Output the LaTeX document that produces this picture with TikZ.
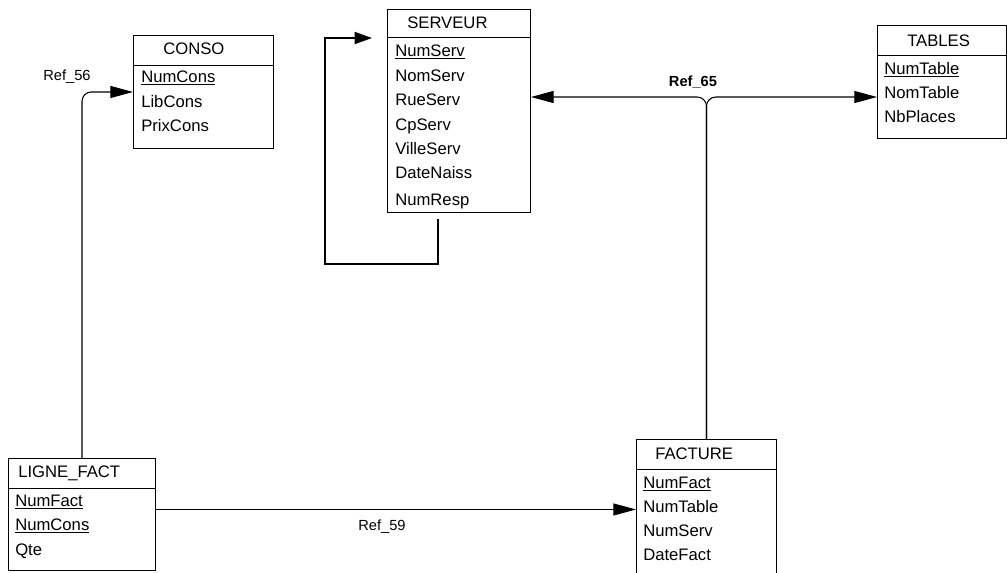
\documentclass[tikz,border=0pt]{standalone}
\usepackage{fontspec}
\setmainfont{Liberation Sans}
\usetikzlibrary{arrows.meta}
\tikzset{
  entity/.style={draw, line width=0.7pt, anchor=north west, inner sep=0pt},
  enttitle/.style={anchor=base west, inner sep=0pt, font=\fontsize{12.5}{14}\selectfont},
  attr/.style={anchor=base west, inner sep=0pt, font=\fontsize{12.5}{14}\selectfont},
  link/.style={line width=0.8pt, -{Triangle[length=17pt,width=9pt]}},
  reflabel/.style={inner sep=0pt, font=\fontsize{11}{13}\selectfont}
}
\begin{document}
\begin{tikzpicture}[x=0.75pt,y=-0.75pt]
\clip (0,0) rectangle (1007,572);
% entities
\node[entity, minimum width=105pt, minimum height=84.75pt] (conso) at (133,35) {};
\node[entity, minimum width=107.25pt, minimum height=152.25pt] (serveur) at (387,9) {};
\node[entity, minimum width=96.75pt, minimum height=84.75pt] (tables) at (877,25) {};
\node[entity, minimum width=110.25pt, minimum height=84pt] (lignefact) at (8,458) {};
\node[entity, minimum width=105pt, minimum height=105pt] (facture) at (636,439) {};
% header lines
\draw[line width=0.7pt] (133,65) -- (273,65);
\draw[line width=0.7pt] (387,37) -- (530,37);
\draw[line width=0.7pt] (877,55) -- (1006,55);
\draw[line width=0.7pt] (8,488) -- (155,488);
\draw[line width=0.7pt] (636,469) -- (776,469);
% CONSO
\node[enttitle] (consoT) at (163,54) {CONSO};
\node[attr] (consoA) at (141,82) {\underline{NumCons}};
\node[attr] (consoB) at (141,107) {LibCons};
\node[attr] (consoC) at (141,131) {PrixCons};
% SERVEUR
\node[enttitle] (serveurT) at (407,28) {SERVEUR};
\node[attr] (serveurA) at (395,56) {\underline{NumServ}};
\node[attr] (serveurB) at (395,81) {NomServ};
\node[attr] (serveurC) at (395,105) {RueServ};
\node[attr] (serveurD) at (395,130) {CpServ};
\node[attr] (serveurE) at (395,154) {VilleServ};
\node[attr] (serveurF) at (395,178) {DateNaiss};
\node[attr] (serveurG) at (395,205) {NumResp};
% TABLES
\node[enttitle] (tablesT) at (907,46) {TABLES};
\node[attr] (tablesA) at (884,74) {\underline{NumTable}};
\node[attr] (tablesB) at (884,98) {NomTable};
\node[attr] (tablesC) at (884,122) {NbPlaces};
% LIGNE_FACT
\node[enttitle] (lignefactT) at (18,477) {LIGNE\_FACT};
\node[attr] (lignefactA) at (15,506) {\underline{NumFact}};
\node[attr] (lignefactB) at (15,530) {\underline{NumCons}};
\node[attr] (lignefactC) at (15,555) {Qte};
% FACTURE
\node[enttitle] (factureT) at (655,459) {FACTURE};
\node[attr] (factureA) at (643,488) {\underline{NumFact}};
\node[attr] (factureB) at (643,512) {NumTable};
\node[attr] (factureC) at (643,536) {NumServ};
\node[attr] (factureD) at (643,560) {DateFact};
% references
\draw[link, rounded corners=7pt] (lignefact.north) |- (conso.west);
\node[reflabel] (ref56) at (67,77) {Ref\_56};
\draw[link] (lignefact.east |- facture.west) -- (facture.west);
\node[reflabel] (ref59) at (382,527) {Ref\_59};
\coordinate (split) at (facture.north |- 0,97);
\draw[link, rounded corners=7pt] (facture.north) -- (split) -- (split -| serveur.east);
\draw[link, rounded corners=7pt] (facture.north) -- (split) -- (split -| tables.west);
\node[reflabel, font=\fontsize{11}{13}\selectfont\bfseries] (ref65) at (693,82) {Ref\_65};
% self reference
\coordinate (respout) at (438,219);
\coordinate (respin) at (372,38);
\draw[link, line width=1.3pt, -{Triangle[length=13pt,width=9pt]}] (respout) |- (325,264) |- (respin);
\end{tikzpicture}
\end{document}
